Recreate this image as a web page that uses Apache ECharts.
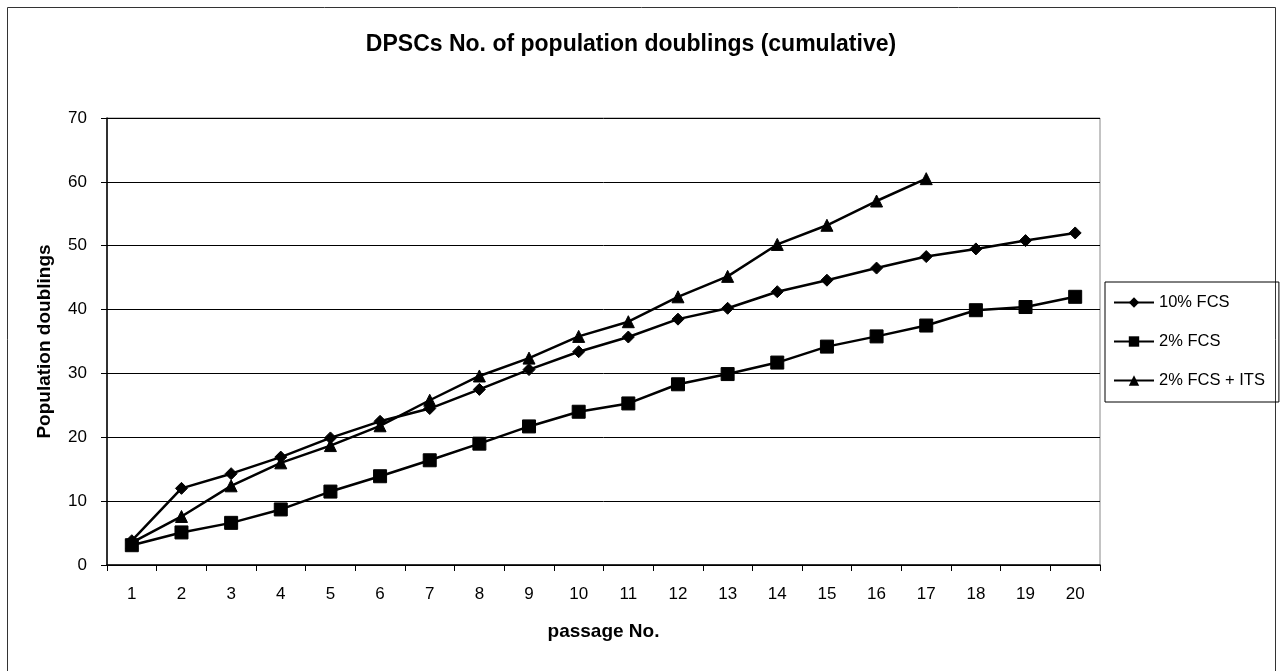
<!DOCTYPE html>
<html><head><meta charset="utf-8">
<script src="https://cdn.jsdelivr.net/npm/echarts@6/dist/echarts.min.js"></script>
<style>html,body{margin:0;padding:0;background:#fff}#c{width:1280px;height:671px}</style>
</head><body><div id="c"></div>
<script>
const categories = ['1','2','3','4','5','6','7','8','9','10','11','12','13','14','15','16','17','18','19','20'];
const fcs10 = [3.8, 12.0, 14.3, 16.9, 19.9, 22.5, 24.5, 27.5, 30.6, 33.4, 35.7, 38.5, 40.2, 42.8, 44.6, 46.5, 48.3, 49.5, 50.8, 52.0];
const fcs2 = [3.1, 5.1, 6.6, 8.7, 11.5, 13.9, 16.4, 19.0, 21.7, 24.0, 25.3, 28.3, 29.9, 31.7, 34.2, 35.8, 37.5, 39.9, 40.4, 42.0];
const fcs2its = [3.5, 7.6, 12.4, 16.0, 18.7, 21.8, 25.8, 29.6, 32.4, 35.8, 38.1, 42.0, 45.2, 50.2, 53.2, 57.0, 60.5];
const yTicks = {min: 0, max: 70, interval: 10};

const font = 'Liberation Sans, Arial, sans-serif';
const chart = echarts.init(document.getElementById('c'));
const mk = (name, data, symbol, size) => ({
  name, type: 'line', data, symbol, symbolSize: size, showSymbol: true,
  lineStyle: {color: '#000', width: 2.5},
  itemStyle: {color: '#000', borderColor: '#000'},
  emphasis: {disabled: true}, animation: false
});
chart.setOption({
  animation: false,
  title: {text: 'DPSCs No. of population doublings (cumulative)', left: 626, textAlign: 'center', top: 28,
    textStyle: {fontFamily: font, fontSize: 23, fontWeight: 'bold', color: '#000'}},
  graphic: [{type: 'rect', shape: {x: 7.5, y: 7.5, width: 1268, height: 670}, style: {fill: 'none', stroke: '#333', lineWidth: 1}, silent: true}],
  grid: {left: 107, right: 180, top: 118, bottom: 106, show: true, borderColor: '#888', borderWidth: 1, backgroundColor: 'transparent'},
  legend: {orient: 'vertical', left: 1105, top: 282, padding: [12, 14, 13, 8],
    borderColor: '#000', borderWidth: 1, itemWidth: 40, itemHeight: 13, itemGap: 22,
    textStyle: {fontFamily: font, fontSize: 16.5, color: '#000'},
    data: ['10% FCS', '2% FCS', '2% FCS + ITS']},
  xAxis: {type: 'category', data: categories, boundaryGap: true,
    name: 'passage No.', nameLocation: 'middle', nameGap: 57,
    nameTextStyle: {fontFamily: font, fontSize: 19, fontWeight: 'bold', color: '#000'},
    axisLine: {lineStyle: {color: '#000', width: 1.5}},
    axisTick: {show: true, length: 6, lineStyle: {color: '#000'}},
    axisLabel: {fontFamily: font, fontSize: 17, color: '#000', margin: 21}},
  yAxis: {type: 'value', min: yTicks.min, max: yTicks.max, interval: yTicks.interval,
    name: 'Population doublings', nameLocation: 'middle', nameGap: 53,
    nameTextStyle: {fontFamily: font, fontSize: 19, fontWeight: 'bold', color: '#000'},
    axisLine: {show: true, lineStyle: {color: '#000', width: 1.5}},
    axisTick: {show: true, length: 6, lineStyle: {color: '#000'}},
    axisLabel: {fontFamily: font, fontSize: 17, color: '#000', margin: 20},
    splitLine: {lineStyle: {color: '#000', width: 1}}},
  series: [
    mk('10% FCS', fcs10, 'diamond', 12),
    mk('2% FCS', fcs2, 'rect', 13),
    mk('2% FCS + ITS', fcs2its, 'triangle', 12)
  ]
});
</script></body></html>
